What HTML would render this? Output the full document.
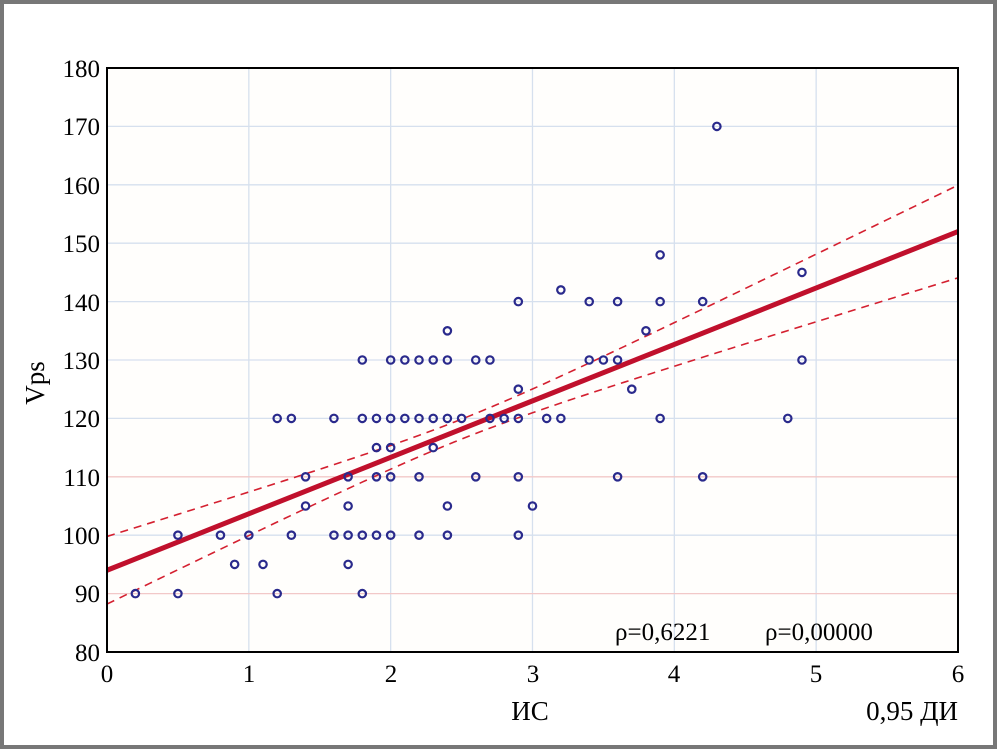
<!DOCTYPE html>
<html><head><meta charset="utf-8"><style>
html,body{margin:0;padding:0;background:#fff}
svg{display:block}
text{font-family:"Liberation Serif",serif;fill:#000}
</style></head><body>
<svg id="s" width="997" height="749" viewBox="0 0 997 749" xmlns="http://www.w3.org/2000/svg">
<rect x="0" y="0" width="997" height="749" fill="#777"/>
<rect x="4" y="4" width="989" height="741" fill="#fff"/>
<rect x="107" y="68" width="851" height="584" fill="#fffefc"/>
<g id="grid"></g>
<g id="lines"></g>
<g id="pts"></g>
<rect x="107" y="68" width="851" height="584" fill="none" stroke="#000" stroke-width="2"/>
<g font-size="25" text-anchor="end">
<text x="100" y="77">180</text><text x="100" y="135">170</text><text x="100" y="194">160</text>
<text x="100" y="252">150</text><text x="100" y="311">140</text><text x="100" y="369">130</text>
<text x="100" y="427">120</text><text x="100" y="486">110</text><text x="100" y="544">100</text>
<text x="100" y="602">90</text><text x="100" y="661">80</text>
</g>
<g font-size="25" text-anchor="middle">
<text x="107" y="682">0</text><text x="249" y="682">1</text><text x="391" y="682">2</text>
<text x="533" y="682">3</text><text x="674" y="682">4</text><text x="816" y="682">5</text>
<text x="958" y="682">6</text>
</g>
<text x="530" y="720" font-size="27" text-anchor="middle">ИС</text>
<text x="958" y="720" font-size="27" text-anchor="end">0,95 ДИ</text>
<text transform="translate(44,383) rotate(-90)" font-size="27" text-anchor="middle">Vps</text>
<text x="615" y="640" font-size="25">ρ=0,6221</text>
<text x="765" y="640" font-size="25">ρ=0,00000</text>
</svg>
<script>
var NS="http://www.w3.org/2000/svg";
function X(v){return 107+141.83*v}
function Y(v){return 652-5.84*(v-80)}
function el(p,t,a){var e=document.createElementNS(NS,t);for(var k in a)e.setAttribute(k,a[k]);document.getElementById(p).appendChild(e);return e}
for(var i=1;i<6;i++)el("grid","line",{x1:X(i),x2:X(i),y1:68,y2:652,stroke:"#d6e0ee","stroke-width":1.3});
for(var v=90;v<180;v+=10)el("grid","line",{x1:107,x2:958,y1:Y(v),y2:Y(v),stroke:(v==90||v==110)?"#f2c8c8":"#d6e0ee","stroke-width":1.3});
function f(x){return 94+58/6*x}
function h(x){return Math.sqrt(2.9+4.9*(x-2.5)*(x-2.5))}
var up=[],lo=[];
for(var x=0;x<=6.001;x+=0.05){up.push(X(x)+","+Y(f(x)+h(x)));lo.push(X(x)+","+Y(f(x)-h(x)));}
el("lines","polyline",{points:up.join(" "),fill:"none",stroke:"#d42030","stroke-width":1.6,"stroke-dasharray":"8,6"});
el("lines","polyline",{points:lo.join(" "),fill:"none",stroke:"#d42030","stroke-width":1.6,"stroke-dasharray":"8,6"});
el("lines","line",{x1:X(0),y1:Y(f(0)),x2:X(6),y2:Y(f(6)),stroke:"#c0102c","stroke-width":5});
var P=[[0.2,90],[0.5,90],[0.5,100],[0.8,100],[0.9,95],[1.0,100],[1.1,95],[1.2,90],[1.2,120],[1.3,120],[1.3,100],[1.4,110],[1.4,105],[1.6,120],[1.6,100],[1.7,110],[1.7,105],[1.7,100],[1.7,95],[1.8,130],[1.8,120],[1.8,100],[1.8,90],[1.9,120],[1.9,115],[1.9,110],[1.9,100],[2.0,130],[2.0,120],[2.0,115],[2.0,110],[2.0,100],[2.1,130],[2.1,120],[2.2,130],[2.2,120],[2.2,110],[2.2,100],[2.3,130],[2.3,120],[2.3,115],[2.4,135],[2.4,130],[2.4,120],[2.4,105],[2.4,100],[2.5,120],[2.6,130],[2.6,110],[2.7,130],[2.7,120],[2.8,120],[2.9,140],[2.9,125],[2.9,120],[2.9,110],[2.9,100],[3.0,105],[3.1,120],[3.2,142],[3.2,120],[3.4,140],[3.4,130],[3.5,130],[3.6,140],[3.6,130],[3.6,110],[3.7,125],[3.8,135],[3.9,148],[3.9,140],[3.9,120],[4.2,140],[4.2,110],[4.3,170],[4.8,120],[4.9,145],[4.9,130]];
P.forEach(function(p){el("pts","circle",{cx:X(p[0]),cy:Y(p[1]),r:3.7,fill:"none",stroke:"#2a2a8c","stroke-width":2.2});});
</script>
</body></html>
